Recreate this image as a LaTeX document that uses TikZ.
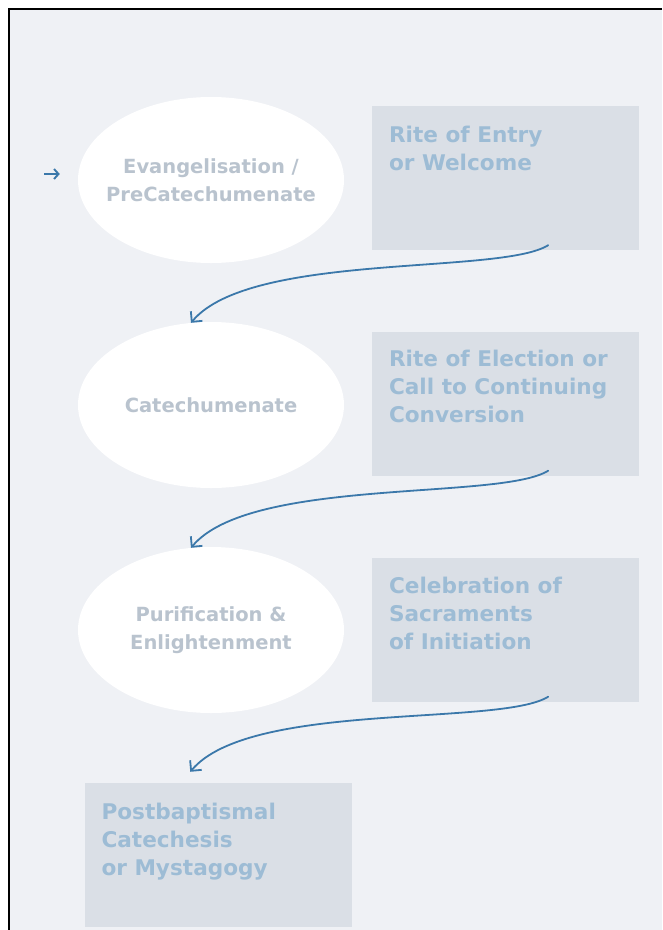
\documentclass[tikz,border=0pt]{standalone}
\usepackage{fontspec}
\setmainfont{DejaVu Sans}
\usetikzlibrary{calc,arrows.meta,shapes.geometric}
\definecolor{bg}{HTML}{EFF1F5}
\definecolor{boxfill}{HTML}{DADFE6}
\definecolor{boxtxt}{HTML}{9DBCD5}
\definecolor{elltxt}{HTML}{B9C3CE}
\definecolor{arrowc}{HTML}{3B78AA}
\begin{document}
\begin{tikzpicture}[x=1pt,y=-1pt,
  ell/.style={ellipse, fill=white, minimum width=266pt, minimum height=166pt, inner sep=0pt},
  elltext/.style={align=center, text=elltxt, inner sep=0pt, font=\fontsize{19.5}{28.5}\selectfont\bfseries},
  stagebox/.style={rectangle, fill=boxfill, minimum width=267pt, minimum height=144pt, inner sep=0pt},
  boxlabel/.style={anchor=base west, align=left, text=boxtxt, inner sep=0pt,
    font=\fontsize{21.6}{28}\selectfont\bfseries},
  flow/.style={draw=arrowc, line width=1.8pt, line cap=round,
    -{Straight Barb[length=7.5pt,width=15pt,line width=1.8pt]}}
]
\useasboundingbox (0,0) rectangle (662,930);
\fill[white] (0,0) rectangle (662,930);
\fill[bg] (9,9) rectangle (662,930);
\draw[line width=2pt] (9,930) -- (9,9) -- (662,9);

\node[ell] (e1) at (211,180) {};
\node[ell] (e2) at (211,405) {};
\node[ell] (e3) at (211,630) {};
\node[elltext] (l1) at (e1.center) {Evangelisation /\\PreCatechumenate};
\node[elltext] (l2) at (e2.center) {Catechumenate};
\node[elltext] (l3) at (e3.center) {Purification \&\\Enlightenment};

\node[stagebox] (b1) at (505.5,178) {};
\node[stagebox] (b2) at (505.5,403.5) {};
\node[stagebox] (b3) at (505.5,629.5) {};
\node[stagebox] (b4) at (218,855) {};

% base anchor = baseline of the last line
\node[boxlabel] (t1) at ($(b1.north west)+(17,65)$) {Rite of Entry\\or Welcome};
\node[boxlabel] (t2) at ($(b2.north west)+(17,91)$) {Rite of Election or\\Call to Continuing\\Conversion};
\node[boxlabel] (t3) at ($(b3.north west)+(17,92)$) {Celebration of\\Sacraments\\of Initiation};
\node[boxlabel] (t4) at ($(b4.north west)+(17,93)$) {Postbaptismal\\Catechesis\\or Mystagogy};

\coordinate (start) at (44,174);
\draw[draw=arrowc, line width=1.9pt, -{Straight Barb[length=4.5pt,width=10pt,line width=1.9pt]}] (start) -- ($(e1.west)+(-18,-6)$);

\draw[flow] ($(b1.south east)+(-91,-5)$) .. controls +(-48,30) and +(59,-71) .. ($(e2.north)+(-20,1)$);
\draw[flow] ($(b2.south east)+(-91,-5)$) .. controls +(-48,30) and +(59,-71) .. ($(e3.north)+(-20,1)$);
\draw[flow] ($(b3.south east)+(-91,-5)$) .. controls +(-48,30) and +(59,-71) .. ($(b4.north west)+(106,-11)$);
\end{tikzpicture}
\end{document}
